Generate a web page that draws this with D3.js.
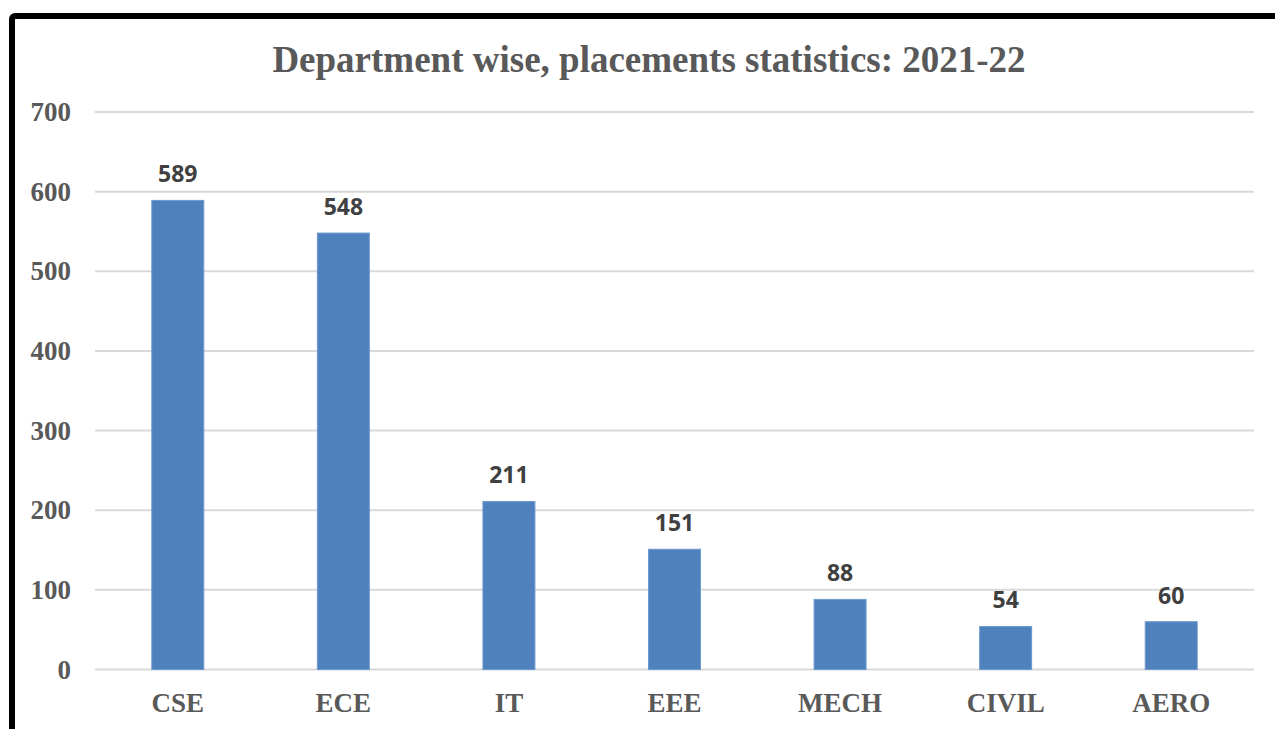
<!DOCTYPE html>
<html>
<head>
<meta charset="utf-8">
<script src="https://cdn.jsdelivr.net/npm/d3@7"></script>
<style>
  body { margin: 0; background: #fff; }
</style>
</head>
<body>
<div id="chart"></div>
<script>
// data
var departments = ["CSE", "ECE", "IT", "EEE", "MECH", "CIVIL", "AERO"];
var placements = [589, 548, 211, 151, 88, 54, 60];
var yTicks = [0, 100, 200, 300, 400, 500, 600, 700];
var chartTitle = "Department wise, placements statistics: 2021-22";

var width = 1275, height = 729;
var plot = { left: 95, right: 1254, top: 112, bottom: 669.5 };

var svg = d3.select("#chart").append("svg")
    .attr("width", width)
    .attr("height", height);

// frame round the chart (runs off right and bottom edges)
svg.append("rect")
    .attr("x", 12)
    .attr("y", 16)
    .attr("width", 1400)
    .attr("height", 900)
    .attr("rx", 3)
    .style("fill", "none")
    .style("stroke", "#000")
    .style("stroke-width", 6);

var x = d3.scaleBand()
    .domain(departments)
    .range([plot.left, plot.right])
    .paddingInner(0.686)
    .paddingOuter(0.343);

var y = d3.scaleLinear()
    .domain([0, 700])
    .range([plot.bottom, plot.top]);

// gridlines
svg.append("g")
    .selectAll("line")
    .data(yTicks)
    .enter().append("line")
    .attr("x1", plot.left)
    .attr("x2", plot.right)
    .attr("y1", function(d) { return y(d); })
    .attr("y2", function(d) { return y(d); })
    .style("stroke", "#d9d9d9")
    .style("stroke-width", 2);

// y axis labels
var yAxis = d3.axisLeft(y).tickValues(yTicks).tickSize(0).tickPadding(0);
var gy = svg.append("g")
    .attr("transform", "translate(71,0)")
    .call(yAxis);
gy.select(".domain").remove();
gy.selectAll("text")
    .style("font-family", "'Liberation Serif', 'Times New Roman', serif")
    .style("font-weight", "bold")
    .style("font-size", "27px")
    .style("fill", "#595959");

// x axis labels
var xAxis = d3.axisBottom(x).tickSize(0).tickPadding(0);
var gx = svg.append("g")
    .attr("transform", "translate(0," + plot.bottom + ")")
    .call(xAxis);
gx.select(".domain").remove();
gx.selectAll("text")
    .attr("dy", null)
    .attr("y", 42)
    .style("font-family", "'Liberation Serif', 'Times New Roman', serif")
    .style("font-weight", "bold")
    .style("font-size", "27px")
    .style("fill", "#595959");

// bars
svg.append("g")
    .selectAll("rect")
    .data(departments)
    .enter().append("rect")
    .attr("x", function(d) { return x(d); })
    .attr("y", function(d, i) { return y(placements[i]); })
    .attr("width", x.bandwidth())
    .attr("height", function(d, i) { return y(0) - y(placements[i]); })
    .style("fill", "#4f81bd")
    .style("stroke", "#6f9ad0")
    .style("stroke-width", 1);

// value labels
svg.append("g")
    .selectAll("text")
    .data(departments)
    .enter().append("text")
    .attr("x", function(d) { return x(d) + x.bandwidth() / 2; })
    .attr("y", function(d, i) { return y(placements[i]) - 18; })
    .attr("text-anchor", "middle")
    .text(function(d, i) { return placements[i]; })
    .style("font-family", "'Open Sans', Carlito, Calibri, sans-serif")
    .style("font-weight", "bold")
    .style("font-size", "23px")
    .style("fill", "#404040");

// title
svg.append("text")
    .attr("x", 649)
    .attr("y", 72)
    .attr("text-anchor", "middle")
    .text(chartTitle)
    .style("font-family", "'Liberation Serif', 'Times New Roman', serif")
    .style("font-weight", "bold")
    .style("font-size", "37px")
    .style("fill", "#595959");
</script>
</body>
</html>
